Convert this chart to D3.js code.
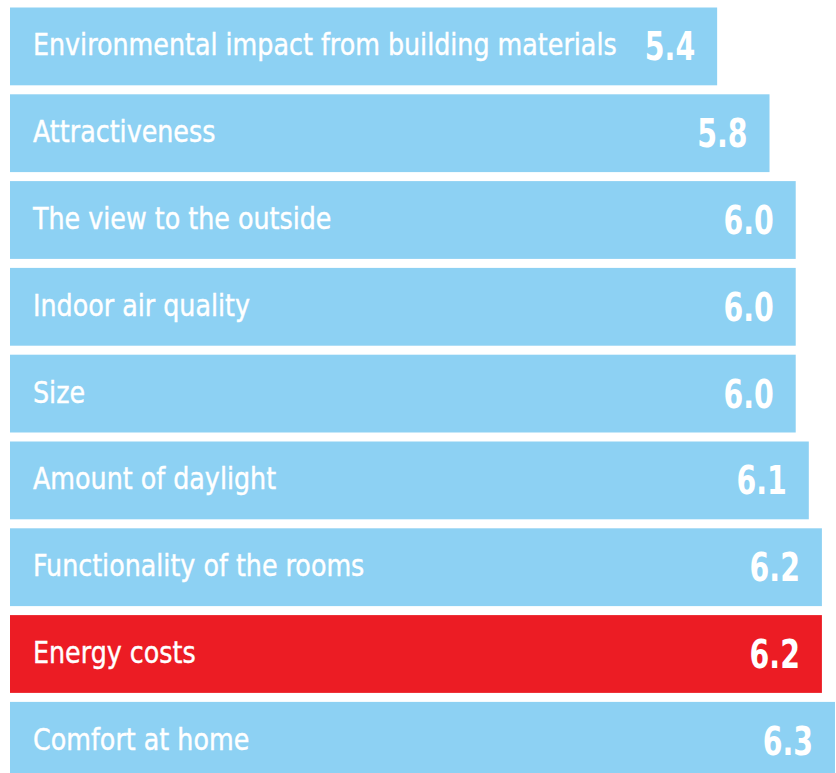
<!DOCTYPE html>
<html>
<head>
<meta charset="utf-8">
<script src="https://cdn.jsdelivr.net/npm/d3@7"></script>
<style>
  body { margin: 0; background: #fff; }
  .label { font-family: "DejaVu Sans Condensed", "Liberation Sans Narrow", sans-serif; font-size: 30px; fill: #fff; stroke: #fff; stroke-width: 0.4px; }
  .value { font-family: "DejaVu Sans Condensed", "Liberation Sans Narrow", sans-serif; font-size: 39px; font-weight: bold; fill: #fff; }
</style>
</head>
<body>
<div id="chart"></div>
<script>
var categories = [
  "Environmental impact from building materials",
  "Attractiveness",
  "The view to the outside",
  "Indoor air quality",
  "Size",
  "Amount of daylight",
  "Functionality of the rooms",
  "Energy costs",
  "Comfort at home"
];
var values = [5.4, 5.8, 6.0, 6.0, 6.0, 6.1, 6.2, 6.2, 6.3];
var highlight = "Energy costs";

var width = 836, height = 773;
var step = 86.8, gap = 9;

var svg = d3.select("#chart")
    .append("svg")
    .attr("width", width)
    .attr("height", height);

var data = categories.map(function(c, i){ return { name: c, value: values[i] }; });

var xScale = d3.scaleLinear()
    .domain([0, 6.3])
    .range([10, 835]);

// last bar runs past the bottom edge and gets cut off
var yScale = d3.scaleBand()
    .domain(categories)
    .range([7.5, 7.5 + step * categories.length - gap])
    .paddingInner(gap / step)
    .paddingOuter(0);

var bars = svg.selectAll(".bar")
    .data(data).enter()
    .append("g")
    .attr("class", "bar")
    .attr("transform", function(d){ return "translate(0," + yScale(d.name) + ")"; });

bars.append("rect")
    .attr("x", xScale(0))
    .attr("width", function(d){ return xScale(d.value) - xScale(0); })
    .attr("height", yScale.bandwidth())
    .attr("fill", function(d){ return d.name == highlight ? "#ec1c24" : "#8dd1f3"; });

// condensed look: squeeze the text horizontally
bars.append("text")
    .attr("class", "label")
    .attr("transform", "translate(33," + (yScale.bandwidth() / 2 + 9) + ") scale(0.94,1)")
    .text(function(d){ return d.name; });

bars.append("text")
    .attr("class", "value")
    .attr("transform", function(d){
        return "translate(" + (xScale(d.value) - 22) + "," + (yScale.bandwidth() / 2 + 14) + ") scale(0.81,1)";
    })
    .style("text-anchor", "end")
    .text(function(d){ return d.value.toFixed(1); });
</script>
</body>
</html>
